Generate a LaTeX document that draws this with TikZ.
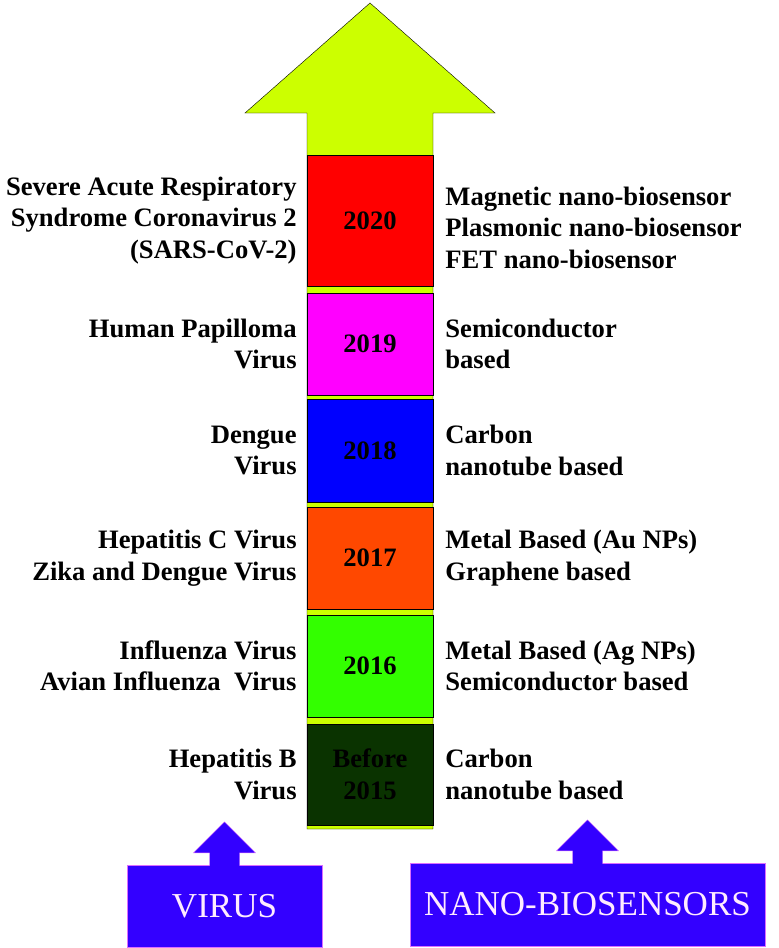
\documentclass[tikz,border=0pt]{standalone}
\usepackage{fontspec}
\setmainfont{LiberationSerif}[Extension=.ttf, UprightFont=*-Regular, BoldFont=*-Bold,
	ItalicFont=*-Italic, BoldItalicFont=*-BoldItalic]
\usepackage{tikz}
\usetikzlibrary{positioning}

\definecolor{arrowyellow}{RGB}{204,255,0}
\definecolor{c2020}{RGB}{255,0,0}
\definecolor{c2019}{RGB}{255,0,255}
\definecolor{c2018}{RGB}{0,0,255}
\definecolor{c2017}{RGB}{255,72,0}
\definecolor{c2016}{RGB}{51,255,0}
\definecolor{c2015}{RGB}{10,51,0}
\definecolor{catblue}{RGB}{51,0,255}
\definecolor{catedge}{RGB}{220,110,255}
\definecolor{cattext}{RGB}{255,235,255}

\begin{document}
\begin{tikzpicture}[x=1pt, y=-1pt,
	yr/.style = {draw, minimum width=126pt, inner sep=0pt, align=center,
		font=\bfseries\fontsize{26.6}{31.5}\selectfont},
	vir/.style = {inner sep=0pt, align=right, font=\bfseries\fontsize{26.6}{31.5}\selectfont},
	sen/.style = {inner sep=0pt, align=left, font=\bfseries\fontsize{26.6}{31.5}\selectfont},
	cat/.style = {draw=catedge, fill=catblue, text=cattext, inner sep=0pt,
		font=\fontsize{35}{40}\selectfont},
	catarrow/.style = {fill=catblue, draw=catedge}]
	\useasboundingbox (0,0) rectangle (779,948);
	
	% main arrow
	\draw[fill=arrowyellow] (307,829) -- (307,113) -- (245,113) -- (370,3)
		-- (495,113) -- (433,113) -- (433,829) -- cycle;
	
	% years
	\foreach \n/\yc/\h/\col/\lab in {2020/220.5/131/c2020/2020, 2019/344/102/c2019/2019,
		2018/450.5/103/c2018/2018, 2017/558/102/c2017/2017, 2016/666/102/c2016/2016,
		2015/774.5/101/c2015/{Before\\2015}}
		\node[yr, fill=\col, minimum height=\h pt] (y\n) at (370,\yc) {\lab};
	
	% viruses
	\node[vir, left=10pt of y2020] (v2020) {Severe Acute Respiratory\\Syndrome Coronavirus 2\\(SARS-CoV-2)};
	\node[vir, left=10pt of y2019] (v2019) {Human Papilloma\\Virus};
	\node[vir, left=10pt of y2018] (v2018) {Dengue\\Virus};
	\node[vir, left=10pt of y2017] (v2017) {Hepatitis C Virus\\Zika and Dengue Virus};
	\node[vir, left=10pt of y2016] (v2016) {Influenza Virus\\Avian Influenza~~Virus};
	\node[vir, left=10pt of y2015] (v2015) {Hepatitis B\\Virus};
	
	% sensors
	\node[sen, right=12pt of y2020, yshift=-7pt] (s2020) {Magnetic nano-biosensor\\Plasmonic nano-biosensor\\FET nano-biosensor};
	\node[sen, right=12pt of y2019] (s2019) {Semiconductor\\based};
	\node[sen, right=12pt of y2018] (s2018) {Carbon\\nanotube based};
	\node[sen, right=12pt of y2017] (s2017) {Metal Based (Au NPs)\\Graphene based};
	\node[sen, right=12pt of y2016] (s2016) {Metal Based (Ag NPs)\\Semiconductor based};
	\node[sen, right=12pt of y2015] (s2015) {Carbon\\nanotube based};
	
	% bottom labels
	\node[cat, minimum width=195pt, minimum height=82pt] (virus) at (224.5,906) {VIRUS};
	\node[cat, minimum width=355pt, minimum height=83pt] (nano) at (587.5,904.5) {NANO-BIOSENSORS};
	\foreach \b in {virus,nano}
		\path[catarrow] (\b.north) ++(-15,1) -- ++(0,-13) -- ++(-16,0) -- ++(31,-31)
			-- ++(31,31) -- ++(-16,0) -- ++(0,13);
\end{tikzpicture}
\end{document}
